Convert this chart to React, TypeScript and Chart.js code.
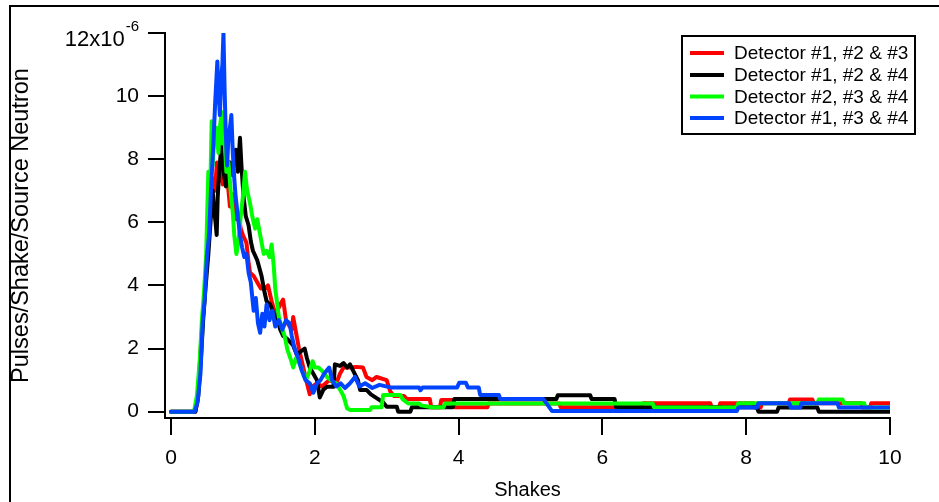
import React, { useEffect, useRef } from "react";
import { Chart, registerables } from "chart.js";

Chart.register(...registerables);

const FONT = "'Liberation Sans', Arial, Helvetica, sans-serif";

const seriesLabels = [
  "Detector #1, #2 & #3",
  "Detector #1, #2 & #4",
  "Detector #2, #3 & #4",
  "Detector #1, #3 & #4",
];
const seriesColors = ["#ff0000", "#000000", "#00ff00", "#0044ff"];

const xTickValues = [0, 2, 4, 6, 8, 10];
const yTickValues = [0, 2, 4, 6, 8, 10, 12];
const xTitle = "Shakes";
const yTitle = "Pulses/Shake/Source Neutron";
const yTopLabel = "12x10";
const yTopExponent = "-6";

// values in units of 1e-6 pulses/shake/source neutron, x in shakes
const redPoints: [number, number][] = [
  [0, 0], [0.34, 0], [0.37, 0.4], [0.4, 1.5], [0.43, 2.6], [0.46, 3.4], [0.49, 4.6],
  [0.52, 5.3], [0.55, 6.6], [0.58, 7.4], [0.61, 7.0], [0.64, 7.9], [0.67, 7.3],
  [0.7, 7.9], [0.72, 7.2], [0.75, 8.1], [0.78, 7.4], [0.8, 7.0], [0.82, 6.5],
  [0.85, 6.9], [0.88, 6.4], [0.91, 6.1], [0.94, 6.3], [0.97, 5.8], [1.0, 5.6],
  [1.05, 5.35], [1.08, 4.7], [1.1, 4.4], [1.15, 4.3], [1.2, 4.1], [1.25, 3.9],
  [1.31, 3.9], [1.35, 4.0], [1.4, 3.5], [1.45, 3.1], [1.5, 3.3], [1.52, 3.4],
  [1.56, 3.55], [1.6, 2.9], [1.65, 2.7], [1.68, 2.6], [1.7, 3.0], [1.74, 2.5],
  [1.78, 2.0], [1.84, 1.4], [1.88, 1.0], [1.93, 0.55], [1.97, 0.8], [2.03, 0.9],
  [2.1, 0.8], [2.2, 1.0], [2.3, 0.9], [2.35, 1.2], [2.4, 1.4], [2.5, 1.4],
  [2.58, 1.42], [2.67, 1.4], [2.72, 1.1], [2.8, 1.0], [2.86, 1.1], [3.0, 1.0],
  [3.05, 0.64], [3.1, 0.5], [3.24, 0.5], [3.28, 0.4], [3.6, 0.4], [3.62, 0.14],
  [3.74, 0.14], [3.76, 0.37], [3.93, 0.37], [3.95, 0.14], [4.4, 0.14], [4.42, 0.26],
  [5.4, 0.26], [5.42, 0.14], [6.55, 0.14], [6.57, 0.27], [7.5, 0.27], [7.52, 0.13],
  [7.62, 0.13], [7.64, 0.27], [8.1, 0.27], [8.12, 0.13], [8.2, 0.13], [8.22, 0.27],
  [8.59, 0.27], [8.61, 0.39], [8.92, 0.39], [8.94, 0.27], [9.6, 0.27], [9.62, 0.13],
  [9.72, 0.13], [9.74, 0.27], [10, 0.27],
];

const blackPoints: [number, number][] = [
  [0, 0], [0.34, 0], [0.38, 0.5], [0.42, 1.8], [0.45, 3.0], [0.48, 3.9], [0.52, 5.0],
  [0.55, 6.0], [0.58, 7.0], [0.6, 6.4], [0.62, 6.0], [0.636, 5.6], [0.65, 6.8],
  [0.67, 7.6], [0.7, 8.4], [0.72, 7.8], [0.745, 7.4], [0.765, 7.14], [0.79, 7.6],
  [0.82, 7.9], [0.85, 7.5], [0.88, 8.0], [0.9, 8.3], [0.93, 7.6], [0.96, 8.68],
  [0.98, 7.8], [1.01, 6.8], [1.04, 6.2], [1.08, 5.9], [1.11, 5.4], [1.14, 5.1],
  [1.2, 4.8], [1.26, 4.3], [1.3, 3.8], [1.33, 3.5], [1.38, 3.4], [1.43, 3.1],
  [1.47, 3.0], [1.52, 2.6], [1.56, 2.4], [1.62, 2.3], [1.7, 2.1], [1.75, 1.8],
  [1.8, 1.9], [1.86, 2.0], [1.89, 1.7], [1.93, 1.4], [1.98, 1.2], [2.03, 1.0],
  [2.07, 0.45], [2.12, 0.7], [2.17, 0.79], [2.26, 0.79], [2.28, 1.5], [2.35, 1.45],
  [2.4, 1.54], [2.45, 1.4], [2.49, 1.5], [2.54, 1.27], [2.6, 1.0], [2.63, 0.69],
  [2.72, 0.69], [2.78, 0.55], [2.86, 0.43], [2.95, 0.3], [3.0, 0.16], [3.14, 0.16],
  [3.16, 0.0], [3.33, 0.0], [3.35, 0.14], [3.92, 0.14], [3.94, 0.4], [5.36, 0.4],
  [5.38, 0.52], [5.83, 0.52], [5.85, 0.4], [6.17, 0.4], [6.19, 0.14], [8.15, 0.14],
  [8.17, 0.0], [8.43, 0.0], [8.45, 0.13], [8.99, 0.13], [9.01, 0.0], [10, 0.0],
];

const greenPoints: [number, number][] = [
  [0, 0], [0.32, 0], [0.36, 0.5], [0.4, 1.6], [0.43, 2.9], [0.46, 3.8], [0.49, 5.0],
  [0.51, 6.8], [0.52, 7.6], [0.535, 6.5], [0.55, 7.4], [0.566, 9.2], [0.58, 7.8],
  [0.6, 8.6], [0.63, 9.0], [0.66, 8.2], [0.68, 9.0], [0.705, 9.5], [0.72, 8.5],
  [0.74, 8.9], [0.77, 7.6], [0.8, 7.9], [0.83, 7.0], [0.86, 6.3], [0.88, 5.6],
  [0.91, 5.0], [0.94, 5.4], [0.97, 6.2], [1.0, 6.8], [1.03, 7.6], [1.06, 7.0],
  [1.1, 6.6], [1.13, 6.2], [1.17, 5.8], [1.2, 6.1], [1.24, 5.6], [1.29, 5.0],
  [1.33, 5.1], [1.37, 4.9], [1.4, 5.3], [1.43, 4.6], [1.45, 3.9], [1.5, 3.0],
  [1.55, 2.6], [1.58, 2.4], [1.62, 1.96], [1.66, 1.7], [1.7, 1.4], [1.74, 1.7],
  [1.79, 1.5], [1.84, 1.2], [1.88, 1.0], [1.93, 1.3], [1.97, 1.6], [2.0, 1.4],
  [2.05, 1.4], [2.1, 1.3], [2.17, 1.1], [2.25, 0.95], [2.3, 0.9], [2.35, 0.7],
  [2.4, 0.5], [2.45, 0.1], [2.5, 0.05], [2.77, 0.05], [2.79, 0.14], [2.93, 0.14],
  [2.95, 0.53], [3.19, 0.53], [3.22, 0.4], [3.3, 0.26], [3.45, 0.26], [3.48, 0.2],
  [3.63, 0.14], [3.79, 0.14], [3.81, 0.26], [6.7, 0.26], [6.72, 0.13], [7.87, 0.13],
  [7.89, 0.27], [8.99, 0.27], [9.01, 0.39], [9.34, 0.39], [9.36, 0.27], [9.64, 0.27],
  [9.66, 0.13], [10, 0.13],
];

const bluePoints: [number, number][] = [
  [0, 0], [0.33, 0], [0.37, 0.3], [0.41, 1.2], [0.44, 2.8], [0.47, 3.6], [0.5, 4.9],
  [0.53, 5.6], [0.56, 7.2], [0.59, 8.5], [0.615, 9.8], [0.645, 11.1], [0.66, 10.2],
  [0.68, 9.4], [0.7, 10.6], [0.715, 11.0], [0.73, 12.0], [0.745, 10.3], [0.76, 9.0],
  [0.78, 7.8], [0.8, 8.7], [0.82, 9.0], [0.84, 9.4], [0.86, 8.2], [0.88, 7.4],
  [0.9, 6.8], [0.93, 6.2], [0.96, 5.6], [0.99, 5.2], [1.02, 4.9], [1.05, 5.0],
  [1.08, 4.4], [1.11, 4.1], [1.15, 3.2], [1.18, 3.6], [1.21, 2.8], [1.24, 2.5],
  [1.27, 3.1], [1.3, 2.7], [1.33, 3.4], [1.37, 2.9], [1.41, 3.2], [1.45, 2.7],
  [1.5, 2.9], [1.55, 2.6], [1.6, 2.9], [1.65, 2.8], [1.68, 2.4], [1.72, 2.0],
  [1.77, 1.7], [1.82, 1.3], [1.87, 1.0], [1.93, 0.9], [1.98, 0.6], [2.03, 0.9],
  [2.08, 1.0], [2.13, 1.2], [2.2, 1.4], [2.24, 1.0], [2.3, 0.8], [2.36, 0.9],
  [2.42, 0.75], [2.49, 0.9], [2.56, 1.1], [2.62, 0.8], [2.7, 0.9], [2.8, 0.75],
  [2.9, 0.85], [3.05, 0.77], [3.45, 0.77], [3.47, 0.68], [3.5, 0.77], [3.98, 0.77],
  [4.01, 0.92], [4.1, 0.92], [4.13, 0.77], [4.28, 0.77], [4.3, 0.53], [4.56, 0.53],
  [4.58, 0.4], [5.18, 0.4], [5.3, 0.02], [7.87, 0.02], [7.89, 0.13], [8.15, 0.13],
  [8.17, 0.27], [8.6, 0.27], [8.62, 0.13], [8.75, 0.13], [8.77, 0.27], [9.27, 0.27],
  [9.29, 0.13], [10, 0.13],
];

const allSeries = [redPoints, blackPoints, greenPoints, bluePoints];

const decorPlugin = {
  id: "decor",
  afterDraw(chart: any) {
    const ctx: CanvasRenderingContext2D = chart.ctx;
    ctx.save();
    // outer frame (top + left)
    ctx.strokeStyle = "#000";
    ctx.lineWidth = 2;
    ctx.beginPath();
    ctx.moveTo(10, 502);
    ctx.lineTo(10, 6);
    ctx.lineTo(939, 6);
    ctx.stroke();

    // top y label with exponent
    const yScale = chart.scales.y;
    const y12 = yScale.getPixelForValue(12);
    const right = 139;
    ctx.fillStyle = "#000";
    ctx.font = `15px ${FONT}`;
    const supW = ctx.measureText(yTopExponent).width;
    ctx.textBaseline = "middle";
    ctx.textAlign = "left";
    ctx.fillText(yTopExponent, right - supW, y12 - 6);
    ctx.font = `22px ${FONT}`;
    ctx.textAlign = "right";
    ctx.fillText(yTopLabel, right - supW - 1, y12 + 7);

    // legend
    const lx = 682, ly = 36, lw = 233, lh = 98;
    ctx.fillStyle = "#fff";
    ctx.fillRect(lx, ly, lw, lh);
    ctx.strokeStyle = "#000";
    ctx.lineWidth = 2;
    ctx.strokeRect(lx, ly, lw, lh);
    const rows = [53, 75, 96.5, 118];
    ctx.font = `19px ${FONT}`;
    ctx.textAlign = "left";
    ctx.textBaseline = "middle";
    seriesLabels.forEach((label, i) => {
      ctx.strokeStyle = seriesColors[i];
      ctx.lineWidth = 4;
      ctx.beginPath();
      ctx.moveTo(690, rows[i]);
      ctx.lineTo(724, rows[i]);
      ctx.stroke();
      ctx.fillStyle = "#000";
      ctx.fillText(label, 734, rows[i] + 1);
    });
    ctx.restore();
  },
};

export default function App() {
  const canvasRef = useRef<HTMLCanvasElement | null>(null);

  useEffect(() => {
    const canvas = canvasRef.current;
    if (!canvas) return;
    const chart = new Chart(canvas, {
      type: "line",
      data: {
        datasets: allSeries.map((pts, i) => ({
          label: seriesLabels[i],
          data: pts.map(([x, y]) => ({ x, y })),
          borderColor: seriesColors[i],
          backgroundColor: seriesColors[i],
          borderWidth: 4,
          pointRadius: 0,
          tension: 0,
          fill: false,
          borderJoinStyle: "round",
          borderCapStyle: "round",
          order: 4 - i,
        })),
      },
      options: {
        animation: false,
        responsive: false,
        devicePixelRatio: 1,
        layout: { padding: { left: 0, top: 33, right: 49, bottom: 0 } },
        plugins: {
          legend: { display: false },
          tooltip: { enabled: false },
        },
        scales: {
          x: {
            type: "linear",
            min: -0.083,
            max: 10,
            afterBuildTicks: (scale: any) => {
              scale.ticks = xTickValues.map((v) => ({ value: v }));
            },
            afterFit: (scale: any) => {
              scale.height = 84;
            },
            grid: {
              display: true,
              drawOnChartArea: false,
              drawTicks: true,
              tickLength: 17,
              lineWidth: 2,
              color: "#000",
            },
            border: { display: true, width: 2, color: "#000" },
            ticks: {
              color: "#000",
              font: { family: FONT, size: 21 },
              padding: 11,
              maxRotation: 0,
              callback: (v: any) => String(v),
            },
            title: {
              display: true,
              text: xTitle,
              color: "#000",
              font: { family: FONT, size: 20 },
              padding: { top: 0, bottom: 0 },
            },
          },
          y: {
            type: "linear",
            min: -0.2,
            max: 12,
            afterBuildTicks: (scale: any) => {
              scale.ticks = yTickValues.map((v) => ({ value: v }));
            },
            afterFit: (scale: any) => {
              scale.width = 165;
            },
            grid: {
              display: true,
              drawOnChartArea: false,
              drawTicks: true,
              tickLength: 17,
              lineWidth: 2,
              color: "#000",
            },
            border: { display: true, width: 2, color: "#000" },
            ticks: {
              color: "#000",
              font: { family: FONT, size: 21 },
              padding: 9,
              callback: (v: any) => (v === 12 ? "" : String(v)),
            },
            title: {
              display: true,
              text: yTitle,
              color: "#000",
              font: { family: FONT, size: 23.5 },
              padding: { top: 7, bottom: 0 },
            },
          },
        },
      },
      plugins: [decorPlugin],
    } as any);
    return () => chart.destroy();
  }, []);

  return (
    <div style={{ position: "fixed", left: 0, top: 0, width: 939, height: 502, background: "#fff" }}>
      <canvas ref={canvasRef} width={939} height={502} style={{ display: "block", width: 939, height: 502 }} />
    </div>
  );
}
